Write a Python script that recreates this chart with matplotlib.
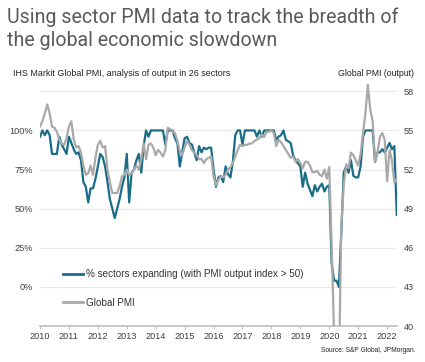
import matplotlib
matplotlib.use("Agg")
import matplotlib.pyplot as plt
from matplotlib.lines import Line2D

# % of the 26 sectors with PMI output index > 50, monthly Jan 2010 - May 2022
sectors_pct = [
    96, 100, 97, 100, 97, 85, 85, 85, 96, 91, 88, 85,      # 2010
    96, 92, 88, 85, 86, 81, 67, 64, 54, 63, 63, 69,        # 2011
    77, 85, 83, 77, 67, 56, 50, 44, 50, 56, 64, 70,        # 2012
    85, 54, 73, 75, 81, 85, 73, 90, 100, 96, 100, 100,     # 2013
    100, 100, 100, 100, 91, 100, 100, 100, 95, 92, 77, 86, # 2014
    95, 96, 92, 91, 86, 81, 90, 86, 89, 88, 89, 89,        # 2015
    75, 64, 70, 71, 67, 77, 72, 70, 80, 97, 100, 100,      # 2016
    91, 100, 100, 100, 100, 100, 96, 100, 96, 100, 100, 100,  # 2017
    100, 100, 94, 96, 97, 100, 94, 93, 92, 84, 81, 79,     # 2018
    77, 64, 73, 66, 62, 58, 65, 61, 64, 66, 61, 64,        # 2019
    65, 15, 4, 4, 0, 35, 73, 77, 73, 81, 71, 70,           # 2020
    70, 77, 96, 100, 100, 100, 100, 80, 86, 86, 88, 86,    # 2021
    89, 92, 88, 90, 46,                                    # 2022
]

# Global PMI (output), same months
global_pmi = [
    55.3, 55.7, 56.3, 57.0, 56.3, 55.3, 55.2, 54.9, 54.3, 54.0, 53.9, 54.4,
    55.3, 55.7, 54.3, 53.7, 53.8, 53.3, 52.3, 51.6, 51.7, 52.3, 51.6, 52.9,
    53.9, 54.2, 53.7, 53.8, 52.0, 51.0, 50.2, 50.2, 50.2, 50.7, 51.5, 51.6,
    52.0, 51.6, 51.7, 52.0, 52.3, 52.0, 52.8, 54.0, 52.8, 53.9, 54.0, 53.7,
    53.1, 53.5, 53.3, 53.0, 53.5, 55.2, 55.1, 54.9, 54.8, 54.2, 53.4, 53.1,
    53.7, 54.2, 53.9, 53.5, 53.3, 53.1, 52.8, 52.8, 52.5, 52.8, 52.9, 53.0,
    51.5, 50.8, 51.2, 51.5, 51.4, 51.6, 52.0, 52.2, 52.5, 53.0, 53.5, 53.9,
    53.8, 53.9, 53.9, 54.0, 54.0, 54.2, 54.3, 54.4, 54.7, 54.5, 54.9, 54.9,
    55.0, 54.8, 53.8, 54.3, 54.1, 53.8, 53.5, 53.2, 52.9, 53.0, 52.6, 52.8,
    52.5, 52.1, 52.6, 52.6, 52.3, 51.8, 51.8, 51.9, 51.6, 51.5, 52.0, 51.3,
    52.2, 46.1, 39.4, 26.2, 36.3, 47.7, 50.8, 52.4, 52.1, 53.3, 53.1, 52.7,
    52.3, 53.2, 54.8, 56.3, 58.5, 56.6, 55.7, 52.6, 53.3, 54.5, 54.8, 54.3,
    51.1, 53.5, 52.7, 51.0, 51.3,
]

years = list(range(2010, 2023))
pct_ticks = [0, 25, 50, 75, 100]
pmi_ticks = [40, 43, 46, 49, 52, 55, 58]

months = [2010 + i / 12 for i in range(len(sectors_pct))]

teal = "#196d87"
grey = "#a9a9a9"
txt = "#404040"

plt.rcParams['font.family'] = ['Liberation Sans', 'DejaVu Sans']

fig = plt.figure(figsize=(4.25, 3.62), dpi=100)
ax = fig.add_axes([0.0941, 0.0994, 0.8399, 0.6843])
ax2 = ax.twinx()

# left axis: % sectors; right axis: PMI (0% <-> 43, 100% <-> 55)
ax.plot(months, sectors_pct, color=teal, lw=1.6, zorder=3)
ax2.plot(months, global_pmi, color=grey, lw=1.6, zorder=3)

ax2.set_ylim(40, 59)
ax.set_ylim((40 - 43) * 100 / 12, (59 - 43) * 100 / 12)
ax.set_xlim(2010, 2022.34)

ax.set_yticks([-25] + pct_ticks + [125])
ax.set_yticklabels([''] + [f'{t}%' for t in pct_ticks] + [''])
ax2.set_yticks(pmi_ticks)
ax2.set_yticklabels([str(t) for t in pmi_ticks])
ax.set_xticks(years)
ax.set_xticklabels([str(y) for y in years])

ax.grid(axis='y', color='#e8e8e8', lw=0.8)
ax.set_axisbelow(True)

for a in (ax, ax2):
    for s in ('top', 'left', 'right', 'bottom'):
        a.spines[s].set_visible(False)
ax.spines['bottom'].set_visible(True)
ax.spines['bottom'].set_color('#bfbfbf')
ax.spines['bottom'].set_linewidth(1.2)

ax.tick_params(axis='y', length=0, pad=5, labelsize=6.6, labelcolor=txt)
ax2.tick_params(axis='y', length=0, pad=5, labelsize=6.6, labelcolor=txt)
ax.tick_params(axis='x', length=2.5, width=0.8, color='#bfbfbf', pad=2,
               labelsize=6.6, labelcolor=txt)

handles = [Line2D([], [], color=teal, lw=2),
           Line2D([], [], color=grey, lw=2)]
labels = ['% sectors expanding (with PMI output index > 50)', 'Global PMI']
ax2.legend(handles, labels, loc='upper left', bbox_to_anchor=(0.053, 0.245),
           frameon=False, fontsize=7.1, handlelength=2.0, handletextpad=0.3,
           labelspacing=1.85, borderaxespad=0, labelcolor='#333333')

fig.text(0.016, 0.978, 'Using sector PMI data to track the breadth of\nthe global economic slowdown',
         ha='left', va='top', fontsize=14.1, color='#5a5a5a', family='Roboto',
         linespacing=1.24)
fig.text(0.03, 0.798, 'IHS Markit Global PMI, analysis of output in 26 sectors',
         ha='left', va='center', fontsize=6.4, color='#222222')
fig.text(0.975, 0.798, 'Global PMI (output)', ha='right', va='center',
         fontsize=6.3, color='#222222')
fig.text(0.977, 0.031, 'Source: S&P Global, JPMorgan.', ha='right', va='center',
         fontsize=4.75, color='#222222')

fig.savefig('out.png', dpi=100)
